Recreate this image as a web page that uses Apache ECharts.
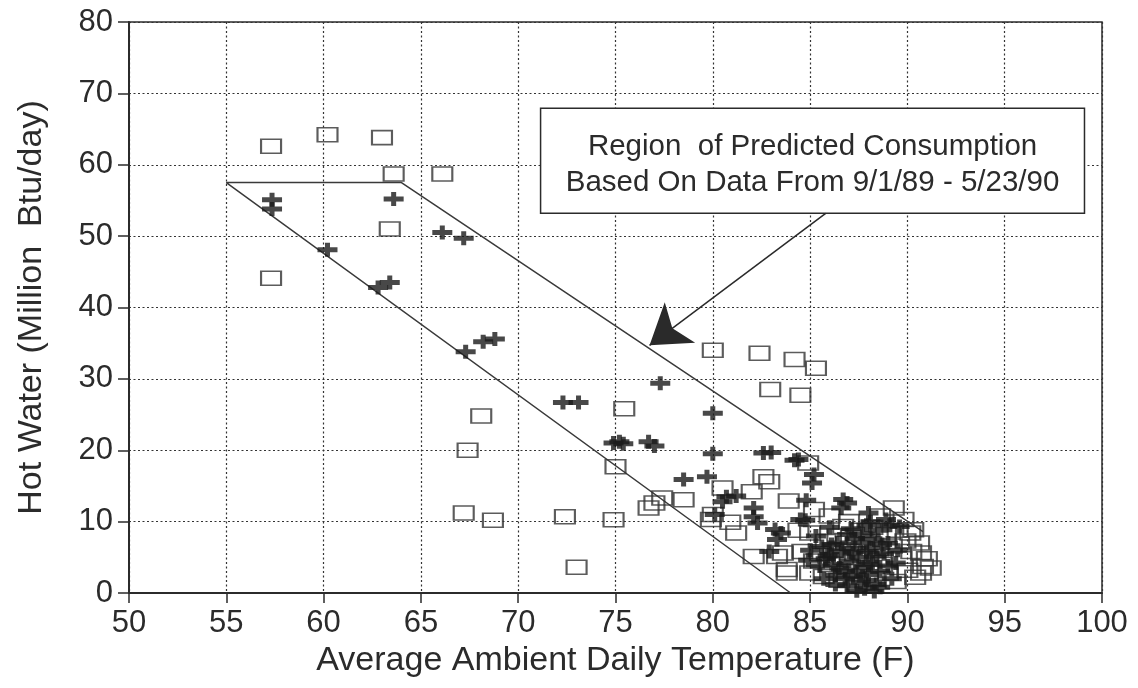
<!DOCTYPE html>
<html>
<head>
<meta charset="utf-8">
<script src="https://cdn.jsdelivr.net/npm/echarts@6/dist/echarts.min.js"></script>
<style>
html,body{margin:0;padding:0;background:#fff;}
#chart{width:1138px;height:688px;}
</style>
</head>
<body>
<div id="chart"></div>
<script>
// ---- tick labels / axis ----
const xTicks = [50, 55, 60, 65, 70, 75, 80, 85, 90, 95, 100];
const yTicks = [0, 10, 20, 30, 40, 50, 60, 70, 80];
const xTitle = 'Average Ambient Daily Temperature (F)';
const yTitle = 'Hot Water (Million  Btu/day)';
const noteLines = ['Region  of Predicted Consumption', 'Based On Data From 9/1/89 - 5/23/90'];

// ---- "+" series (temperature, hot water) ----
const crossTemp = [57.35,57.35,63.6,60.2,66.1,67.2,63.4,62.8,67.3,68.2,68.8,72.3,73.1,77.3,80.0,74.9,75.4,75.2,76.7,77.0,80.0,82.6,83.0,84.2,78.5,79.7,80.7,81.2,80.5,80.1,82.1,82.1,82.3,83.2,83.5,83.3,82.9,84.5,84.4,85.2,85.1,84.8,86.7,86.9,86.6,84.75,88.0,88.1,
  85.3,85.6,85.9,86.2,86.4,86.6,86.8,87.0,87.0,87.2,87.3,87.5,87.6,87.7,87.8,88.0,88.1,88.2,88.4,88.5,88.6,88.8,89.0,89.2,89.4,89.6,85.5,86.0,86.3,87.9,88.9,89.1,89.5,85.0,84.9,87.4,88.3,86.9,87.9,
  85.8,86.1,86.5,86.9,87.2,87.6,88.0,88.4,88.7,89.0,85.7,86.3,86.8,87.4,87.9,88.6,87.1,87.7,88.2,86.0];
const crossHW = [55.1,53.8,55.2,48.1,50.5,49.7,43.5,42.8,33.8,35.2,35.6,26.7,26.7,29.4,25.2,21.0,20.9,21.2,21.2,20.6,19.5,19.6,19.7,18.6,15.9,16.3,13.5,13.6,12.8,11.0,11.9,10.7,9.8,8.9,8.4,7.5,5.8,10.3,18.7,16.6,15.4,13.0,13.1,12.6,11.9,10.2,11.2,10.0,
  8.0,6.5,5.2,4.0,7.0,5.8,3.2,6.2,4.5,2.4,7.6,5.0,1.5,3.6,0.6,2.6,6.3,4.3,1.2,8.8,3.0,5.5,7.0,2.0,4.2,9.3,3.8,9.2,2.5,9.5,10.3,9.5,6.0,6.0,4.6,0.3,0.2,1.0,5.8,
  4.8,6.8,3.5,8.2,5.6,7.0,4.0,5.2,6.8,3.8,2.0,1.2,2.0,3.0,1.8,0.8,9.0,8.3,7.6,5.4];

// ---- open-square series (temperature, hot water) ----
const squareTemp = [57.3,60.2,63.0,63.6,66.1,63.4,57.3,68.1,67.4,67.2,68.7,72.4,73.0,75.0,74.9,75.45,80.0,82.4,84.2,85.3,82.95,84.5,78.5,77.4,77.0,76.7,80.0,79.9,80.9,81.2,80.5,82.1,82.9,82.6,83.3,83.6,83.8,82.0,84.9,85.2,89.3,85.0,86.7,83.8,85.0,85.7,90.3,90.7,90.8,90.15,91.2,90.7,
  85.5,85.8,86.0,86.2,86.4,86.5,86.7,86.9,87.1,87.3,87.4,87.6,87.8,88.0,88.2,88.3,88.5,88.7,88.9,89.0,89.2,89.4,89.5,89.7,89.9,90.0,90.2,90.4,89.8,88.6,87.0,86.0,85.2,84.6,84.4,90.6,91.0,83.9];
const squareHW = [62.6,64.2,63.8,58.7,58.7,51.0,44.1,24.8,20.0,11.2,10.2,10.7,3.6,17.7,10.25,25.8,34.0,33.6,32.7,31.5,28.5,27.7,13.05,13.3,12.6,11.9,11.0,10.3,9.9,8.4,14.7,5.1,15.6,16.3,5.1,5.6,3.3,14.2,18.2,11.7,11.9,8.4,9.3,2.8,2.8,2.3,8.85,5.6,3.7,8.4,3.5,2.8,
  5.5,7.2,4.0,6.0,8.0,1.8,5.0,3.0,7.8,5.5,1.2,8.8,6.8,4.8,9.2,2.0,6.2,4.0,8.2,2.8,6.6,1.6,8.8,4.8,7.3,3.2,5.8,2.2,10.3,10.8,10.0,10.8,4.5,5.8,8.8,7.0,4.8,12.9];

// ---- region of predicted consumption (boundary vertices) ----
const regionTemp = [84.0, 55.0, 64.0, 90.8];
const regionHW   = [0.0, 57.5, 57.5, 8.6];
// ---- annotation box corners and arrow ----
const boxTemp = [71.15, 99.1];
const boxHW = [67.9, 53.2];
const arrowTemp = [85.8, 76.75];
const arrowHW = [53.2, 34.7];

const zip = (a, b) => a.map((v, i) => [v, b[i]]);
const ink = '#2b2b2b';
const font = 'Liberation Sans, Arial, Helvetica, sans-serif';

const chart = echarts.init(document.getElementById('chart'), null, {renderer: 'canvas'});
chart.setOption({
  animation: false,
  backgroundColor: '#ffffff',
  grid: {left: 129, right: 36, top: 22, bottom: 95, show: true, borderColor: ink, borderWidth: 1.5, backgroundColor: 'transparent'},
  xAxis: {
    type: 'value', min: xTicks[0], max: xTicks[xTicks.length - 1], interval: 5,
    name: xTitle, nameLocation: 'middle', nameGap: 50,
    nameTextStyle: {fontSize: 34, color: ink, fontFamily: font},
    axisLine: {show: true, onZero: false, lineStyle: {color: ink, width: 2}},
    axisTick: {show: true, length: 10, lineStyle: {color: ink, width: 1.5}},
    axisLabel: {fontSize: 31, color: ink, fontFamily: font, margin: 15},
    splitLine: {show: true, lineStyle: {color: '#333', width: 1.2, type: [2, 2.5]}}
  },
  yAxis: {
    type: 'value', min: yTicks[0], max: yTicks[yTicks.length - 1], interval: 10,
    name: yTitle, nameLocation: 'middle', nameGap: 80,
    nameTextStyle: {fontSize: 34, color: ink, fontFamily: font},
    axisLine: {show: true, lineStyle: {color: ink, width: 2}},
    axisTick: {show: true, length: 11, lineStyle: {color: ink, width: 1.5}},
    axisLabel: {fontSize: 31, color: ink, fontFamily: font, margin: 16},
    splitLine: {show: true, lineStyle: {color: '#333', width: 1.2, type: [2, 2.5]}}
  },
  series: [
    {
      type: 'line', data: zip(regionTemp, regionHW), symbol: 'none', silent: true,
      lineStyle: {color: '#3a3a3a', width: 1.5}, z: 3
    },
    {
      type: 'scatter', data: zip(squareTemp, squareHW), symbol: 'rect', symbolSize: [20, 14], silent: true,
      itemStyle: {color: 'rgba(255,255,255,0)', borderColor: '#333', borderWidth: 1.8}, z: 4
    },
    {
      type: 'scatter', data: zip(crossTemp, crossHW), silent: true,
      symbol: 'path://M7.5,0h5v4.5h7.5v5h-7.5v4.5h-5v-4.5h-7.5v-5h7.5z', symbolSize: [20, 14],
      itemStyle: {color: '#1a1a1a'}, z: 5
    },
    {
      type: 'lines', coordinateSystem: 'cartesian2d', silent: true, z: 6,
      symbol: ['none', 'arrow'], symbolSize: [16, 38],
      lineStyle: {color: '#2a2a2a', width: 1.5, opacity: 1},
      data: [{coords: zip(arrowTemp, arrowHW)}]
    },
    {
      type: 'scatter', data: [], silent: true, z: 7,
      markArea: {
        silent: true,
        itemStyle: {color: '#ffffff', borderColor: ink, borderWidth: 1.5},
        label: {show: true, position: 'inside', offset: [0, 4], formatter: noteLines.join('\n'), fontSize: 29.5, lineHeight: 36, color: ink, fontFamily: font},
        data: [[{coord: [boxTemp[0], boxHW[0]]}, {coord: [boxTemp[1], boxHW[1]]}]]
      }
    }
  ]
});
</script>
</body>
</html>
